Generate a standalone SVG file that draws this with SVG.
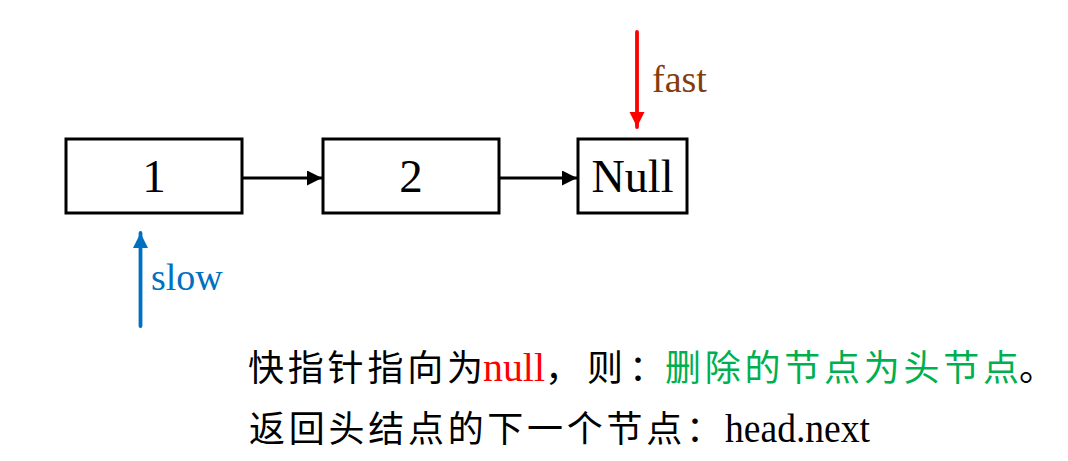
<svg xmlns="http://www.w3.org/2000/svg" width="1068" height="461" viewBox="0 0 1068 461">
<style>
.box{fill:#fff;stroke:#000;stroke-width:3}
.num{font-family:"Liberation Serif","Times New Roman",serif;font-size:47px;fill:#000;text-anchor:middle}
.lat{font-family:"Liberation Serif","Times New Roman",serif;font-size:40px}
.cjk{font-family:"Liberation Serif","Noto Sans CJK SC",sans-serif;font-size:36px}
.lbl{font-family:"Liberation Serif","Times New Roman",serif;font-size:38px}
</style>
<defs>
<marker id="ab" markerWidth="5" markerHeight="5" refX="5" refY="2.5" orient="auto" markerUnits="strokeWidth"><path d="M0,0 L5,2.5 L0,5 Z" fill="#000"/></marker>
<marker id="ar" markerWidth="4" markerHeight="4" refX="4" refY="2" orient="auto" markerUnits="strokeWidth"><path d="M0,0 L4,2 L0,4 Z" fill="#FF0000"/></marker>
<marker id="abl" markerWidth="4" markerHeight="4" refX="4" refY="2" orient="auto" markerUnits="strokeWidth"><path d="M0,0 L4,2 L0,4 Z" fill="#0070C0"/></marker>
</defs>
<g id="node1"><rect class="box" x="66" y="139" width="176" height="74"/><text class="num" x="154" y="192">1</text></g>
<g id="node2"><rect class="box" x="323" y="139" width="176" height="74"/><text class="num" x="411" y="192">2</text></g>
<g id="nodeNull"><rect class="box" x="578" y="139" width="109" height="74"/><text class="num" x="632.5" y="192" textLength="82" lengthAdjust="spacingAndGlyphs">Null</text></g>
<g id="connectors">
<line x1="242" y1="178" x2="322" y2="178" stroke="#000" stroke-width="3" marker-end="url(#ab)"/>
<line x1="499" y1="178" x2="577" y2="178" stroke="#000" stroke-width="3" marker-end="url(#ab)"/>
<line x1="637" y1="32" x2="637" y2="127" stroke="#FF0000" stroke-width="3.8" stroke-linecap="round" marker-end="url(#ar)"/>
<line x1="140.5" y1="326" x2="140.5" y2="233" stroke="#0070C0" stroke-width="3.8" stroke-linecap="round" marker-end="url(#abl)"/>
</g>
<g id="labels">
<text class="lbl" x="652" y="92" fill="#843C0C">fast</text>
<text class="lbl" x="151" y="290" fill="#0070C0" font-size="39">slow</text>
<text class="cjk" x="248" y="381" fill="#000" textLength="235" lengthAdjust="spacing">快指针指向为</text>
<text class="lat" x="483" y="381" fill="#FF0000" textLength="62" lengthAdjust="spacingAndGlyphs">null</text>
<text class="cjk" x="545" y="381" fill="#000" textLength="120" lengthAdjust="spacing">，则：</text>
<text class="cjk" x="665" y="381" fill="#00B050" textLength="354" lengthAdjust="spacing">删除的节点为头节点</text>
<text class="cjk" x="1019" y="381" fill="#000">。</text>
<text class="cjk" x="249" y="442" fill="#000" textLength="473" lengthAdjust="spacing">返回头结点的下一个节点：</text>
<text class="lat" x="725" y="442" fill="#000" textLength="145" lengthAdjust="spacingAndGlyphs">head.next</text>
</g>
</svg>
